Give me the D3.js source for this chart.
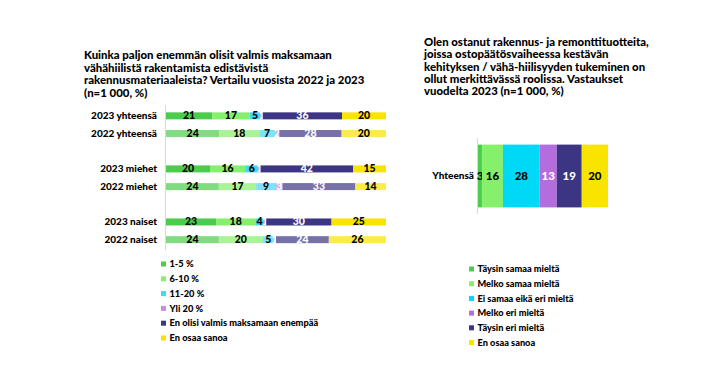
<!DOCTYPE html>
<html><head><meta charset="utf-8">
<script src="https://cdn.jsdelivr.net/npm/d3@7"></script>
<style>
html,body{margin:0;padding:0;background:#fff;}
svg{display:block;font-family:Lato,"Open Sans",sans-serif;}
</style></head>
<body>
<svg id="c" width="720" height="383"></svg>
<script>
// ---------- DATA ----------
const leftTitle = ["Kuinka paljon enemmän olisit valmis maksamaan","vähähiilistä rakentamista edistävistä","rakennusmateriaaleista? Vertailu vuosista 2022 ja 2023","(n=1 000, %)"];
const leftCategories = ["2023 yhteensä","2022 yhteensä","2023 miehet","2022 miehet","2023 naiset","2022 naiset"];
const leftSeries = ["1-5 %","6-10 %","11-20 %","Yli 20 %","En olisi valmis maksamaan enempää","En osaa sanoa"];
const v1to5   = [21,24,20,24,23,24];
const v6to10  = [17,18,16,17,18,20];
const v11to20 = [5,7,6,9,4,5];
const vOver20 = [1,2,1,3,1,1];
const vNoMore = [36,28,42,33,30,24];
const vDontKnow = [20,20,15,14,25,26];

const rightTitle = ["Olen ostanut rakennus- ja remonttituotteita,","joissa ostopäätösvaiheessa kestävän","kehityksen / vähä-hiilisyyden tukeminen on","ollut merkittävässä roolissa. Vastaukset","vuodelta 2023 (n=1 000, %)"];
const rightCategories = ["Yhteensä"];
const rightSeries = ["Täysin samaa mieltä","Melko samaa mieltä","Ei samaa eikä eri mieltä","Melko eri mieltä","Täysin eri mieltä","En osaa sanoa"];
const rightValues = [3,16,28,13,19,20];

// ---------- STYLE ----------
const leftColors = ["#4ccc4c","#86ef6c","#3ed9f6","#c48ee6","#3c3584","#f9e400"];
const leftLabelColors = ["#000","#000","#000","#fff","#fff","#000"];
const rightColors = ["#4ccc4c","#86ef6c","#00d8f7","#b36ddc","#3c3584","#f9e400"];
const rightLabelColors = ["#000","#000","#000","#fff","#fff","#000"];
const FW = 900;

const svg = d3.select("#c");

// font size so that a sample string has a target width
function fit(sample, target){
  const t = svg.append("text").attr("font-size",10).attr("font-weight",FW).text(sample);
  const w = t.node().getComputedTextLength();
  t.remove();
  return 10*target/w;
}
const fsTitleL = fit(leftTitle[0],248);
const fsTitleR = fit(rightTitle[0],225);
const fsCat = fit("2023 yhteensä",66);
const fsLegL = fit("En olisi valmis maksamaan enempää",149);
const fsLegR = fit("Ei samaa eikä eri mieltä",96);

// ---------- LEFT CHART ----------
svg.append("text").attr("font-weight",FW).attr("font-size",fsTitleL).attr("fill","#000")
  .selectAll("tspan").data(leftTitle).join("tspan")
  .attr("x",84).attr("y",(d,i)=>59+i*12.5).text(d=>d);

const leftRows = leftCategories.map((c,i)=>({cat:c, idx:i, vals:[v1to5[i],v6to10[i],v11to20[i],vOver20[i],vNoMore[i],vDontKnow[i]]}));
const leftTable = leftRows.map(r=>{const o={cat:r.cat, idx:r.idx}; leftSeries.forEach((s,k)=>o[s]=r.vals[k]); return o;});
const leftStack = d3.stack().keys(leftSeries).offset(d3.stackOffsetExpand)(leftTable);

const xL = d3.scaleLinear().domain([0,1]).range([166,386]);
const slotOf = i => i + Math.floor(i/2);
const yL = d3.scaleBand().domain(d3.range(8)).range([107,248.5]).paddingInner(0.6).paddingOuter(0.3);
const bh = 7;
const yc = i => yL(slotOf(i)) + yL.bandwidth()/2;

svg.append("line").attr("x1",165.5).attr("x2",165.5).attr("y1",105).attr("y2",250)
  .attr("stroke","#d9d9d9").attr("stroke-width",1);

leftStack.forEach((layer,k)=>{
  const g = svg.append("g");
  g.selectAll("rect").data(layer).join("rect")
    .attr("x",d=>xL(d[0])).attr("width",d=>xL(d[1])-xL(d[0]))
    .attr("y",d=>yc(d.data.idx)-bh/2).attr("height",bh)
    .attr("fill",leftColors[k])
    .attr("fill-opacity",d=>d.data.cat.startsWith("2022")?0.7:1);
  g.selectAll("text").data(layer).join("text")
    .attr("x",d=>(xL(d[0])+xL(d[1]))/2).attr("y",d=>yc(d.data.idx)+3.5)
    .attr("text-anchor","middle").attr("font-size",fsCat*1.05).attr("font-weight",FW)
    .attr("fill",leftLabelColors[k])
    .text(d=>d.data[leftSeries[k]]);
});

svg.append("g").selectAll("text").data(leftCategories).join("text")
  .attr("x",157).attr("y",(d,i)=>yc(i)+3.3).attr("text-anchor","end")
  .attr("font-size",fsCat).attr("font-weight",FW).attr("fill","#000").text(d=>d);

const lgL = svg.append("g").selectAll("g").data(leftSeries).join("g")
  .attr("transform",(d,i)=>`translate(161,${264.5+i*14.8})`);
lgL.append("rect").attr("x",0).attr("y",-3).attr("width",5).attr("height",5).attr("fill",(d,i)=>leftColors[i]);
lgL.append("text").attr("x",8.5).attr("y",2.6).attr("font-size",fsLegL).attr("font-weight",FW).attr("fill","#000").text(d=>d);

// ---------- RIGHT CHART ----------
svg.append("text").attr("font-weight",FW).attr("font-size",fsTitleR).attr("fill","#000")
  .selectAll("tspan").data(rightTitle).join("tspan")
  .attr("x",424).attr("y",(d,i)=>46+i*12.3).text(d=>d);

const rightTable = rightCategories.map(c=>{const o={cat:c}; rightSeries.forEach((s,k)=>o[s]=rightValues[k]); return o;});
const rightStack = d3.stack().keys(rightSeries).offset(d3.stackOffsetExpand)(rightTable);
const xR = d3.scaleLinear().domain([0,1]).range([478,608]);
const yR = d3.scaleBand().domain(rightCategories).range([138,214]).paddingInner(0).paddingOuter(0.105);

svg.append("line").attr("x1",477.5).attr("x2",477.5).attr("y1",138).attr("y2",214)
  .attr("stroke","#d9d9d9").attr("stroke-width",1);

rightStack.forEach((layer,k)=>{
  const g = svg.append("g");
  g.selectAll("rect").data(layer).join("rect")
    .attr("x",d=>xR(d[0])).attr("width",d=>xR(d[1])-xR(d[0]))
    .attr("y",d=>yR(d.data.cat)).attr("height",yR.bandwidth())
    .attr("fill",rightColors[k]);
  g.selectAll("text").data(layer).join("text")
    .attr("x",d=>(xR(d[0])+xR(d[1]))/2).attr("y",d=>yR(d.data.cat)+yR.bandwidth()/2+3.8)
    .attr("text-anchor","middle").attr("font-size",fsCat*1.15).attr("font-weight",FW)
    .attr("fill",rightLabelColors[k])
    .text(d=>d.data[rightSeries[k]]);
});

svg.append("g").selectAll("text").data(rightCategories).join("text")
  .attr("x",474).attr("y",d=>yR(d)+yR.bandwidth()/2+3.3).attr("text-anchor","end")
  .attr("font-size",fsCat).attr("font-weight",FW).attr("fill","#000").text(d=>d);

const lgR = svg.append("g").selectAll("g").data(rightSeries).join("g")
  .attr("transform",(d,i)=>`translate(469,${269.5+i*14.7})`);
lgR.append("rect").attr("x",0).attr("y",-3).attr("width",5).attr("height",5).attr("fill",(d,i)=>rightColors[i]);
lgR.append("text").attr("x",8.5).attr("y",2.6).attr("font-size",fsLegR).attr("font-weight",FW).attr("fill","#000").text(d=>d);
</script>
</body></html>
